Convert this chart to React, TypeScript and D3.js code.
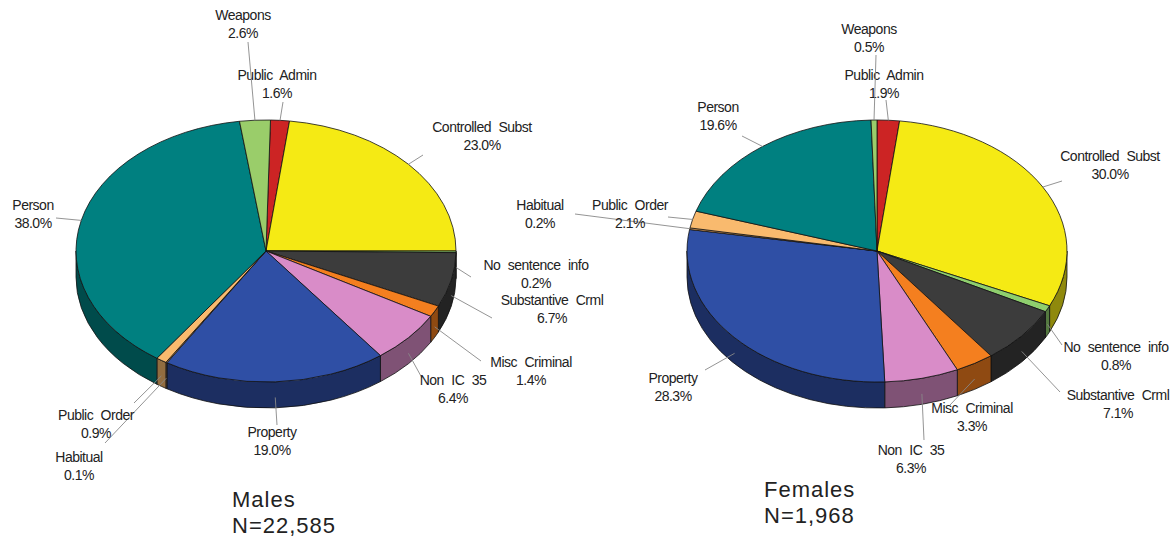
import React, { useEffect, useRef } from 'react';
import * as d3 from 'd3';

// slice order, clockwise from 12 o'clock
const categories = ['Public Admin', 'Controlled Subst', 'No sentence info', 'Substantive Crml', 'Misc Criminal',
  'Non IC 35', 'Property', 'Habitual', 'Public Order', 'Person', 'Weapons'];
const malesPct = [1.6, 23.0, 0.2, 6.7, 1.4, 6.4, 19.0, 0.1, 0.9, 38.0, 2.6];
const femalesPct = [1.9, 30.0, 0.8, 7.1, 3.3, 6.3, 28.3, 0.2, 2.1, 19.6, 0.5];
const sliceColors = ['#cc2424', '#f5ea14', '#8fcf6e', '#3c3c3c', '#f47f1f', '#d98cc8',
  '#2f4fa5', '#e8a35a', '#f9ba6e', '#008080', '#9acd6a'];

// label anchors: [text centre x, first baseline y, leader end x, leader end y]
const malesLabels = [
  [277, 80, 283, 102], [482, 132, 423, 155], [536, 270, 471, 277], [552, 305, 492, 318],
  [531, 367, 481, 361], [453, 385, 422, 378], [272, 437, 277, 425], [79, 462, 105, 443],
  [96, 420, 134, 403], [33, 210, 56, 218], [243, 20, 248, 42],
];
const femalesLabels = [
  [884, 80, 886, 100], [1110, 161, 1062, 181], [1116, 352, 1062, 345], [1118, 400, 1060, 392],
  [972, 413, 950, 405], [911, 455, 924, 440], [673, 383, 705, 370], [540, 210, 575, 214],
  [630, 210, 668, 217], [718, 112, 742, 136], [869, 34, 876, 55],
];

const charts = [
  { values: malesPct, labels: malesLabels, cx: 266, start: 1.35, title: 'Males', n: 'N=22,585', tx: 232, ty: 507 },
  { values: femalesPct, labels: femalesLabels, cx: 877, start: 0, title: 'Females', n: 'N=1,968', tx: 764, ty: 497 },
];

const RX = 190, RY = 131, CY = 251, DEPTH = 26;

export default function App() {
  const ref = useRef<SVGSVGElement>(null);

  useEffect(() => {
    const svg = d3.select(ref.current);
    svg.selectAll('*').remove();

    charts.forEach((c) => {
      const g = svg.append('g');
      const px = (t: number) => c.cx + RX * Math.sin(t);
      const py = (t: number) => CY - RY * Math.cos(t);
      const arc = (a0: number, a1: number, dy = 0) => {
        const large = a1 - a0 > Math.PI ? 1 : 0;
        return `A${RX},${RY} 0 ${large} 1 ${px(a1)},${py(a1) + dy}`;
      };
      const arcBack = (a1: number, a0: number, dy: number) => {
        const large = a1 - a0 > Math.PI ? 1 : 0;
        return `A${RX},${RY} 0 ${large} 0 ${px(a0)},${py(a0) + dy}`;
      };

      const s0 = (c.start * Math.PI) / 180;
      const pie = d3.pie<number>().sort(null).value((d) => d).startAngle(s0).endAngle(s0 + 2 * Math.PI);
      const arcs = pie(c.values);

      // side walls (front half only, PI/2 .. 3PI/2)
      arcs.forEach((a, i) => {
        const lo = Math.max(a.startAngle, Math.PI / 2);
        const hi = Math.min(a.endAngle, (3 * Math.PI) / 2);
        if (hi <= lo) return;
        const side = d3.color(sliceColors[i])!.darker(1.5).toString();
        const d = `M${px(lo)},${py(lo)} ${arc(lo, hi)} L${px(hi)},${py(hi) + DEPTH} ${arcBack(hi, lo, DEPTH)} Z`;
        g.append('path').attr('d', d).attr('fill', side).attr('stroke', '#111').attr('stroke-width', 0.8);
      });

      // top faces
      arcs.forEach((a, i) => {
        const d = `M${c.cx},${CY} L${px(a.startAngle)},${py(a.startAngle)} ${arc(a.startAngle, a.endAngle)} Z`;
        g.append('path').attr('d', d).attr('fill', sliceColors[i]).attr('stroke', '#111').attr('stroke-width', 0.8)
          .attr('stroke-linejoin', 'round');
      });

      // leaders + labels
      arcs.forEach((a, i) => {
        const m = (a.startAngle + a.endAngle) / 2;
        const [tx, ty, lx, ly] = c.labels[i];
        const front = Math.cos(m) < 0;
        const sx = px(m);
        const sy = py(m) + (front ? DEPTH * 0.6 : 0);
        g.append('line').attr('x1', sx).attr('y1', sy).attr('x2', lx).attr('y2', ly)
          .attr('stroke', '#888').attr('stroke-width', 0.9);
        const t = g.append('text').attr('text-anchor', 'middle').attr('fill', '#222')
          .attr('font-family', 'Liberation Sans, Arial, sans-serif').attr('font-size', 14)
          .attr('letter-spacing', -0.5).attr('word-spacing', 4);
        t.append('tspan').attr('x', tx).attr('y', ty).text(categories[i]);
        t.append('tspan').attr('x', tx).attr('y', ty + 18).text(`${a.data.toFixed(1)}%`);
      });

      const title = g.append('text').attr('fill', '#222').attr('font-family', 'Liberation Sans, Arial, sans-serif')
        .attr('font-size', 22).attr('letter-spacing', 1);
      title.append('tspan').attr('x', c.tx).attr('y', c.ty).text(c.title);
      title.append('tspan').attr('x', c.tx).attr('y', c.ty + 26).text(c.n);
    });
  }, []);

  return (
    <svg ref={ref} width={1173} height={538}
      style={{ position: 'absolute', left: 0, top: 0, background: '#fff' }} />
  );
}
